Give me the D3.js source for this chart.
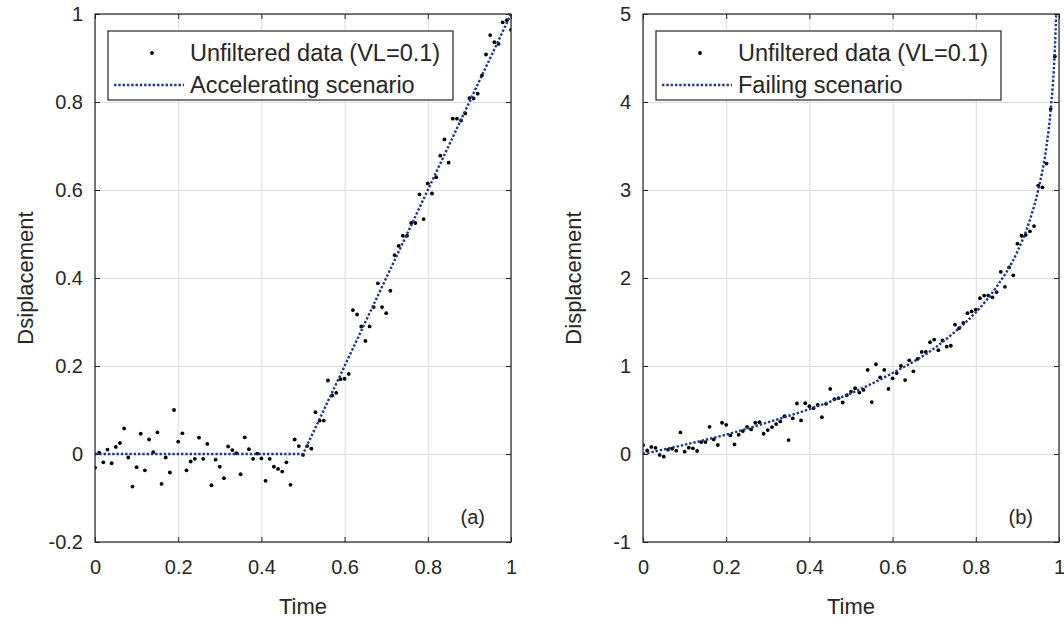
<!DOCTYPE html>
<meta charset="utf-8">

<!-- Cargar d3 -->
<script src="https://d3js.org/d3.v7.min.js"></script>

<style>
    body {
        margin: 0;
        padding: 0;
        background: #fff;
    }

    svg text {
        font-family: 'Liberation Sans', Arial, sans-serif;
        fill: #262626;
    }
</style>

<body>
    <svg width="1064" height="620"></svg>
    <script>

        // Tiempo normalizado de cada medicion
        var tiempo = [0, 0.01, 0.02, 0.03, 0.04, 0.05, 0.06, 0.07, 0.08, 0.09,
            0.1, 0.11, 0.12, 0.13, 0.14, 0.15, 0.16, 0.17, 0.18, 0.19,
            0.2, 0.21, 0.22, 0.23, 0.24, 0.25, 0.26, 0.27, 0.28, 0.29,
            0.3, 0.31, 0.32, 0.33, 0.34, 0.35, 0.36, 0.37, 0.38, 0.39,
            0.4, 0.41, 0.42, 0.43, 0.44, 0.45, 0.46, 0.47, 0.48, 0.49,
            0.5, 0.51, 0.52, 0.53, 0.54, 0.55, 0.56, 0.57, 0.58, 0.59,
            0.6, 0.61, 0.62, 0.63, 0.64, 0.65, 0.66, 0.67, 0.68, 0.69,
            0.7, 0.71, 0.72, 0.73, 0.74, 0.75, 0.76, 0.77, 0.78, 0.79,
            0.8, 0.81, 0.82, 0.83, 0.84, 0.85, 0.86, 0.87, 0.88, 0.89,
            0.9, 0.91, 0.92, 0.93, 0.94, 0.95, 0.96, 0.97, 0.98, 0.99, 1];

        // Panel (a): datos sin filtrar
        var datosA = [-0.031, 0.003, -0.019, 0.010, -0.021, 0.016, 0.025, 0.058, -0.008, -0.074,
            -0.030, 0.046, -0.037, 0.033, 0.004, 0.049, -0.068, -0.008, -0.042, 0.100,
            0.028, 0.047, -0.037, -0.017, -0.011, 0.037, -0.011, 0.023, -0.071, -0.013,
            -0.029, -0.055, 0.017, 0.009, 0.002, -0.046, 0.038, 0.011, -0.011, 0.001,
            -0.010, -0.061, -0.011, -0.029, -0.034, -0.040, -0.019, -0.070, 0.033, 0.018,
            -0.002, 0.018, 0.012, 0.095, 0.076, 0.076, 0.167, 0.133, 0.139, 0.170,
            0.171, 0.182, 0.327, 0.317, 0.290, 0.257, 0.290, 0.334, 0.388, 0.334,
            0.320, 0.371, 0.452, 0.473, 0.496, 0.496, 0.525, 0.525, 0.590, 0.534,
            0.615, 0.592, 0.629, 0.678, 0.715, 0.662, 0.762, 0.762, 0.758, 0.774,
            0.809, 0.808, 0.819, 0.860, 0.908, 0.952, 0.936, 0.932, 0.981, 0.986, 0.964];

        // Panel (b): datos sin filtrar (el ultimo punto queda fuera del eje)
        var datosB = [0.10, 0.04, 0.08, 0.07, -0.01, -0.03, 0.049, 0.060, 0.038, 0.245,
            0.026, 0.072, 0.064, 0.034, 0.136, 0.136, 0.309, 0.166, 0.102, 0.355,
            0.332, 0.211, 0.109, 0.219, 0.260, 0.309, 0.279, 0.355, 0.362, 0.230,
            0.272, 0.306, 0.340, 0.370, 0.43, 0.158, 0.404, 0.574, 0.381, 0.577,
            0.543, 0.521, 0.558, 0.419, 0.570, 0.740, 0.623, 0.634, 0.585, 0.668,
            0.709, 0.747, 0.698, 0.728, 0.955, 0.59, 1.02, 0.87, 0.955, 0.74,
            0.86, 0.92, 1.00, 0.84, 1.065, 0.94, 1.08, 1.16, 1.16, 1.27,
            1.30, 1.18, 1.29, 1.22, 1.23, 1.47, 1.43, 1.49, 1.60, 1.62,
            1.64, 1.77, 1.80, 1.80, 1.78, 1.84, 2.07, 1.90, 2.12, 2.03,
            2.39, 2.48, 2.49, 2.53, 2.59, 3.05, 3.03, 3.30, 3.92, 4.52];

        // Escenarios (curvas punteadas)
        var escenarioA_t = [0, 0.5, 1];
        var escenarioA_v = [0, 0, 1];
        var escenarioB_t = [0, 0.1, 0.2, 0.3, 0.4, 0.5, 0.6, 0.7, 0.75, 0.8, 0.85, 0.9, 0.93, 0.95, 0.97, 0.98, 0.99, 0.9933];
        var escenarioB_v = [0, 0.105, 0.22, 0.36, 0.51, 0.69, 0.92, 1.2, 1.39, 1.61, 1.9, 2.3, 2.66, 3.0, 3.5, 3.91, 4.6, 5.0];

        // Marcas de los ejes
        var ticksX = [0, 0.2, 0.4, 0.6, 0.8, 1];
        var etiquetasX = ["0", "0.2", "0.4", "0.6", "0.8", "1"];
        var ticksA = [-0.2, 0, 0.2, 0.4, 0.6, 0.8, 1];
        var etiquetasA = ["-0.2", "0", "0.2", "0.4", "0.6", "0.8", "1"];
        var ticksB = [-1, 0, 1, 2, 3, 4, 5];
        var etiquetasB = ["-1", "0", "1", "2", "3", "4", "5"];

        var leyendaA = ["Unfiltered data (VL=0.1)", "Accelerating scenario"];
        var leyendaB = ["Unfiltered data (VL=0.1)", "Failing scenario"];

        var svg = d3.select("svg");
        var colorLinea = "#1f3591";
        var colorEje = "#262626";

        var top0 = 14, alto = 528, ancho = 416;

        function dibujarPanel(cfg) {
            var x = d3.scaleLinear().domain([0, 1]).range([0, ancho]);
            var y = d3.scaleLinear().domain(cfg.dominio).range([alto, 0]);

            var g = svg.append("g").attr("transform", "translate(" + cfg.left + "," + top0 + ")");

            g.append("clipPath").attr("id", "clip" + cfg.id)
                .append("rect").attr("width", ancho).attr("height", alto);

            // Rejilla
            g.append("g")
                .attr("transform", "translate(0," + alto + ")")
                .call(d3.axisBottom(x).tickValues(ticksX).tickSize(-alto).tickFormat(""))
                .call(function (s) {
                    s.select(".domain").remove();
                    s.selectAll("line").attr("stroke", "#dcdcdc").attr("stroke-width", 1);
                });
            g.append("g")
                .call(d3.axisLeft(y).tickValues(cfg.ticks).tickSize(-ancho).tickFormat(""))
                .call(function (s) {
                    s.select(".domain").remove();
                    s.selectAll("line").attr("stroke", "#dcdcdc").attr("stroke-width", 1);
                });

            // Puntos de datos
            var puntos = cfg.datos.map(function (v, i) { return [tiempo[i], v]; });
            g.append("g").attr("clip-path", "url(#clip" + cfg.id + ")")
                .selectAll("circle")
                .data(puntos)
                .enter()
                .append("circle")
                .attr("cx", function (d) { return x(d[0]); })
                .attr("cy", function (d) { return y(d[1]); })
                .attr("r", 1.9)
                .attr("fill", "#000");

            // Escenario punteado
            var linea = d3.line()
                .x(function (d) { return x(d[0]); })
                .y(function (d) { return y(d[1]); })
                .curve(cfg.curva);
            var curvaDatos = cfg.esc_t.map(function (t, i) { return [t, cfg.esc_v[i]]; });
            g.append("path")
                .attr("clip-path", "url(#clip" + cfg.id + ")")
                .attr("d", linea(curvaDatos))
                .attr("fill", "none")
                .attr("stroke", colorLinea)
                .attr("stroke-width", 2.4)
                .attr("stroke-dasharray", "2.4,1.9");

            // Ejes con marcas hacia adentro
            var ejeX = g.append("g")
                .attr("transform", "translate(0," + alto + ")")
                .call(d3.axisBottom(x).tickValues(ticksX).tickSize(-5).tickPadding(18)
                    .tickFormat(function (d, i) { return etiquetasX[i]; }));
            var ejeY = g.append("g")
                .call(d3.axisLeft(y).tickValues(cfg.ticks).tickSize(-5).tickPadding(12)
                    .tickFormat(function (d, i) { return cfg.etiquetas[i]; }));
            g.append("g")
                .call(d3.axisTop(x).tickValues(ticksX).tickSize(-5).tickFormat(""));
            g.append("g")
                .attr("transform", "translate(" + ancho + ",0)")
                .call(d3.axisRight(y).tickValues(cfg.ticks).tickSize(-5).tickFormat(""));

            g.selectAll(".domain").remove();
            g.selectAll(".tick line").filter(function () { return d3.select(this).attr("stroke") != "#dcdcdc"; })
                .attr("stroke", colorEje);
            g.selectAll(".tick text").style("font-size", "20px").attr("fill", colorEje);
            ejeX.selectAll("text").attr("dy", "0.71em");

            // Caja del eje
            g.append("rect")
                .attr("width", ancho).attr("height", alto)
                .attr("fill", "none").attr("stroke", colorEje).attr("stroke-width", 1.2);

            // Titulos de ejes
            g.append("text")
                .attr("x", ancho / 2).attr("y", 614 - top0)
                .attr("text-anchor", "middle")
                .style("font-size", "22px")
                .text("Time");
            g.append("text")
                .attr("transform", "translate(" + (-62) + "," + (alto / 2) + ") rotate(-90)")
                .attr("text-anchor", "middle")
                .style("font-size", "22px")
                .text(cfg.etiquetaY);

            // Letra del panel
            g.append("text")
                .attr("x", x(0.908)).attr("y", y(cfg.letraY))
                .attr("text-anchor", "middle")
                .style("font-size", "20px")
                .text(cfg.letra);

            // Leyenda
            var ley = g.append("g").attr("transform", "translate(13,17)");
            ley.append("rect")
                .attr("width", 345).attr("height", 69)
                .attr("fill", "#fff").attr("stroke", colorEje).attr("stroke-width", 1.2);
            ley.append("circle").attr("cx", 44).attr("cy", 22).attr("r", 1.9).attr("fill", "#000");
            ley.append("line")
                .attr("x1", 6).attr("x2", 76).attr("y1", 54).attr("y2", 54)
                .attr("stroke", colorLinea).attr("stroke-width", 2.4)
                .attr("stroke-dasharray", "2.4,1.9");
            ley.selectAll("text.ley")
                .data(cfg.leyenda)
                .enter()
                .append("text")
                .attr("class", "ley")
                .attr("x", 82)
                .attr("y", function (d, i) { return 22 + i * 32; })
                .attr("dy", "0.35em")
                .style("font-size", "23.5px")
                .text(function (d) { return d; });
        }

        dibujarPanel({
            id: "A", left: 95, dominio: [-0.2, 1], ticks: ticksA, etiquetas: etiquetasA,
            datos: datosA, esc_t: escenarioA_t, esc_v: escenarioA_v, curva: d3.curveLinear,
            etiquetaY: "Dsiplacement", leyenda: leyendaA, letra: "(a)", letraY: -0.159
        });
        dibujarPanel({
            id: "B", left: 643, dominio: [-1, 5], ticks: ticksB, etiquetas: etiquetasB,
            datos: datosB, esc_t: escenarioB_t, esc_v: escenarioB_v, curva: d3.curveMonotoneX,
            etiquetaY: "Displacement", leyenda: leyendaB, letra: "(b)", letraY: -0.795
        });
    </script>
</body>
